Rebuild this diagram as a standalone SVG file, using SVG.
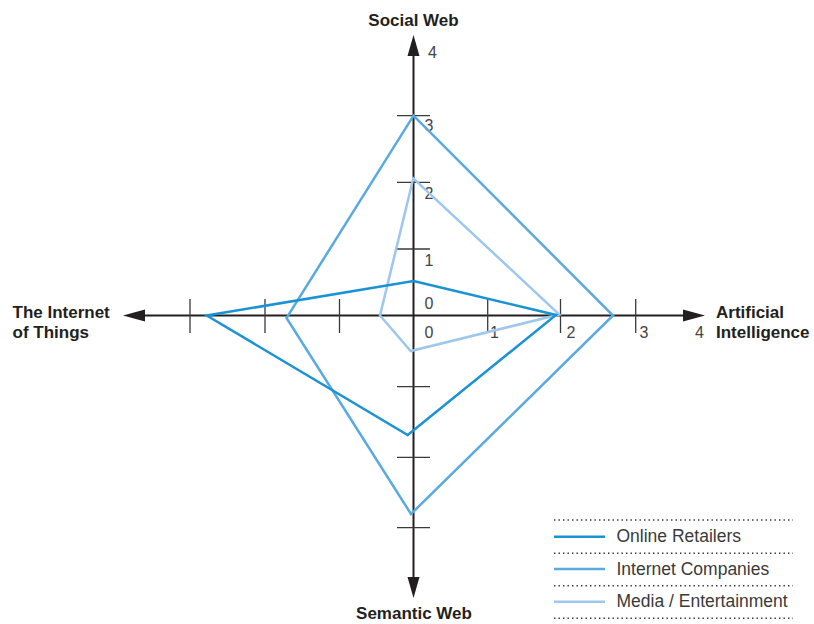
<svg xmlns="http://www.w3.org/2000/svg" width="814" height="624" viewBox="0 0 814 624">
  <style>
    .axis { stroke: #231f20; stroke-width: 2; fill: none; }
    .tick { stroke: #3a3a3a; stroke-width: 1.3; fill: none; }
    .head { fill: #231f20; }
    .axlabel { font-family: "Liberation Sans", Arial, sans-serif; font-weight: bold; font-size: 17px; fill: #231f20; }
    .num { font-family: "Liberation Sans", Arial, sans-serif; font-size: 16px; fill: #444; }
    .legtext { font-family: "Liberation Sans", Arial, sans-serif; font-size: 17.5px; fill: #3a3a3a; }
    .series { fill: none; stroke-width: 2.5; stroke-linejoin: miter; }
    .retail { stroke: #1a92d4; }
    .inet { stroke: #58aae0; }
    .media { stroke: #9dc7ec; }
    .dots { stroke: #333; stroke-width: 1.4; stroke-dasharray: 1.4 3.1; }
  </style>
  <rect width="814" height="624" fill="#ffffff"/>

  <!-- axes with scale ticks -->
  <g id="axes">
    <line class="axis" x1="413.5" y1="54" x2="413.5" y2="578"/>
    <line class="axis" x1="144" y1="315.5" x2="684" y2="315.5"/>
    <polygon class="head" points="413.5,35 407.5,56 419.5,56"/>
    <polygon class="head" points="413.5,598 407.5,577 419.5,577"/>
    <polygon class="head" points="123,315.5 145,309.5 145,321.5"/>
    <polygon class="head" points="705,315.5 683,309.5 683,321.5"/>
    <!-- ticks: horizontal axis -->
    <line class="tick" x1="190" y1="299" x2="190" y2="333"/>
    <line class="tick" x1="265" y1="299" x2="265" y2="333"/>
    <line class="tick" x1="339.5" y1="299" x2="339.5" y2="333"/>
    <line class="tick" x1="487.7" y1="299" x2="487.7" y2="333"/>
    <line class="tick" x1="560.5" y1="299" x2="560.5" y2="333"/>
    <line class="tick" x1="635.7" y1="299" x2="635.7" y2="333"/>
    <!-- ticks: vertical axis -->
    <line class="tick" x1="397" y1="115.7" x2="430" y2="115.7"/>
    <line class="tick" x1="397" y1="182.3" x2="430" y2="182.3"/>
    <line class="tick" x1="397" y1="249" x2="430" y2="249"/>
    <line class="tick" x1="397" y1="386.7" x2="430" y2="386.7"/>
    <line class="tick" x1="397" y1="457.3" x2="430" y2="457.3"/>
    <line class="tick" x1="397" y1="527.7" x2="430" y2="527.7"/>
    <!-- scale numbers -->
    <text class="num" x="428" y="58">4</text>
    <text class="num" x="424.5" y="131">3</text>
    <text class="num" x="424.5" y="199">2</text>
    <text class="num" x="424.5" y="266">1</text>
    <text class="num" x="424.5" y="309">0</text>
    <text class="num" x="424.5" y="338">0</text>
    <text class="num" x="490" y="338">1</text>
    <text class="num" x="566.5" y="338">2</text>
    <text class="num" x="639.5" y="338">3</text>
    <text class="num" x="695" y="338">4</text>
  </g>

  <!-- axis titles -->
  <g id="label-social-web">
    <text class="axlabel" x="413.5" y="26" text-anchor="middle">Social Web</text>
  </g>
  <g id="label-semantic-web">
    <text class="axlabel" x="414" y="619" text-anchor="middle">Semantic Web</text>
  </g>
  <g id="label-iot">
    <text class="axlabel" x="12.5" y="318">The Internet</text>
    <text class="axlabel" x="12.5" y="338">of Things</text>
  </g>
  <g id="label-ai">
    <text class="axlabel" x="716" y="318">Artificial</text>
    <text class="axlabel" x="716" y="338">Intelligence</text>
  </g>

  <!-- data series -->
  <g id="connectors">
    <polygon id="series-internet-companies" class="series inet" points="413.5,115.7 613,315.5 411,514 286.5,318"/>
    <polygon id="series-media" class="series media" points="413.3,178.3 559.3,314.5 410.7,351 380,315.5"/>
    <polygon id="series-online-retailers" class="series retail" points="413.5,281 556,315 407.7,435 206.7,315.5"/>
  </g>

  <!-- legend -->
  <g id="legend">
    <line class="dots" x1="554" y1="520" x2="793" y2="520"/>
    <line class="dots" x1="554" y1="553.3" x2="793" y2="553.3"/>
    <line class="dots" x1="554" y1="585.7" x2="793" y2="585.7"/>
    <line class="dots" x1="554" y1="618.3" x2="793" y2="618.3"/>
    <line class="series retail" x1="554" y1="536.7" x2="605" y2="536.7"/>
    <line class="series inet" x1="554" y1="569" x2="605" y2="569"/>
    <line class="series media" x1="554" y1="601.7" x2="605" y2="601.7"/>
    <text class="legtext" x="616.5" y="541.5">Online Retailers</text>
    <text class="legtext" x="616.5" y="574.5">Internet Companies</text>
    <text class="legtext" x="616.5" y="607">Media / Entertainment</text>
  </g>
</svg>
